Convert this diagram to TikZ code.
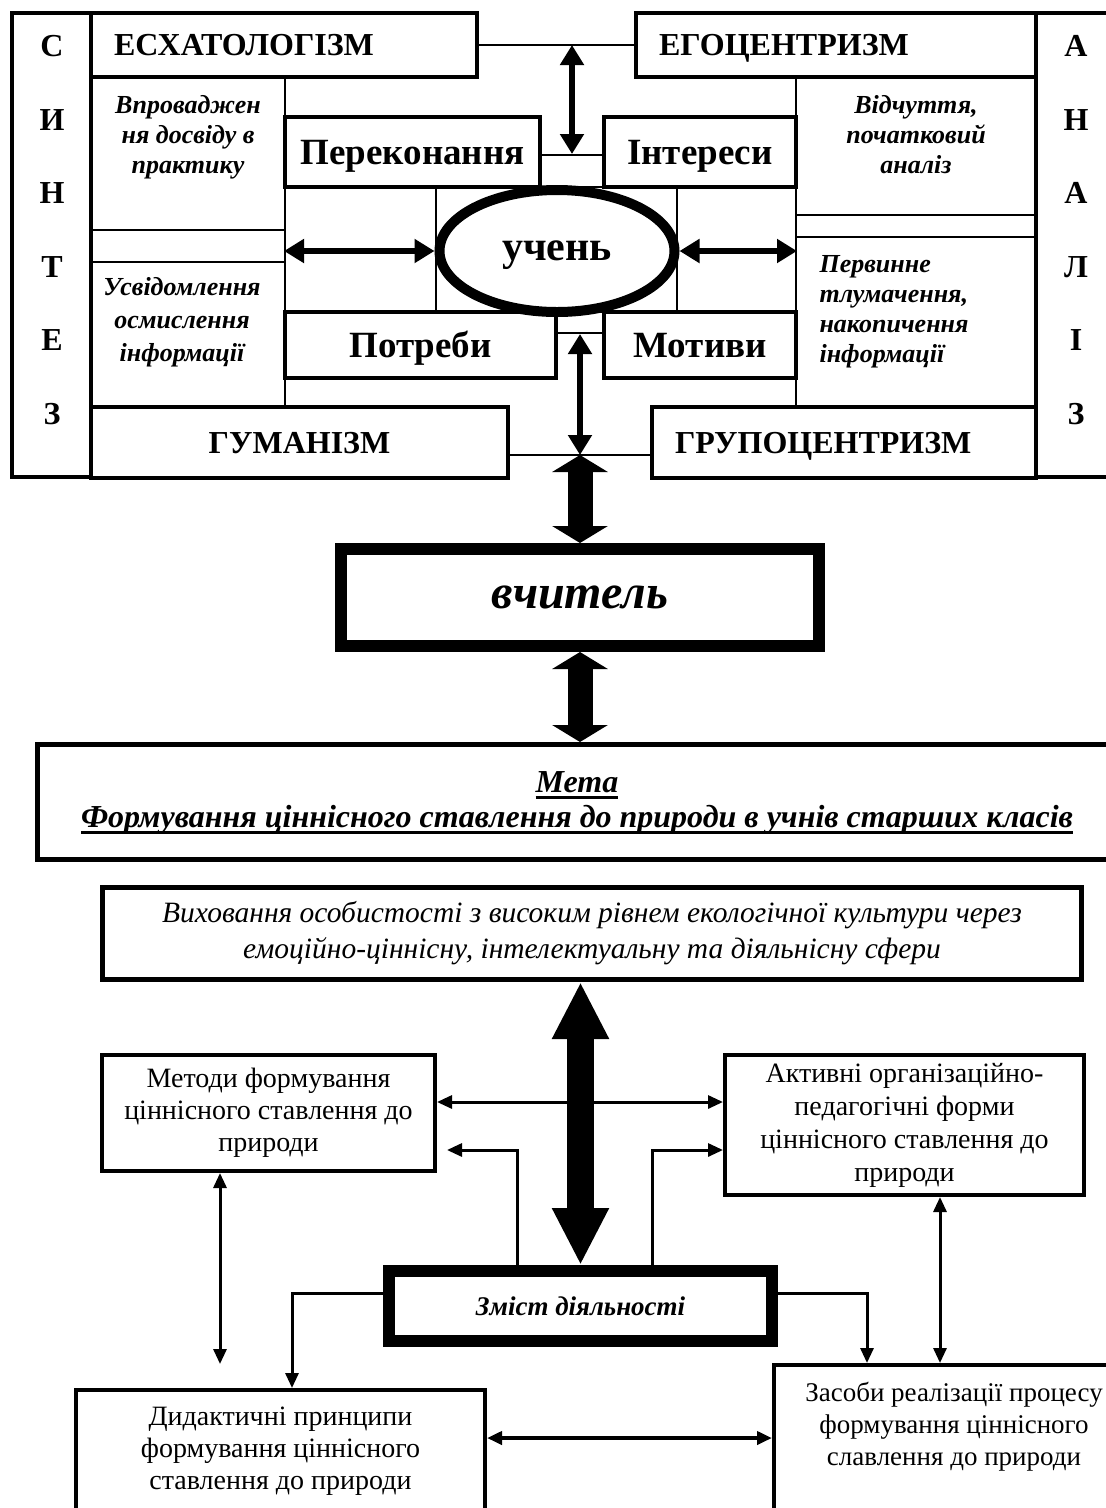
\documentclass[tikz,border=0pt]{standalone}
\usepackage{fontspec}
\setmainfont{Liberation Serif}
\usetikzlibrary{arrows.meta,shapes.geometric}
\newsavebox\ulbox
\newcommand{\uln}[1]{\sbox\ulbox{#1}\rlap{\usebox\ulbox}\rule[-6pt]{\wd\ulbox}{2.5pt}}

\begin{document}
\begin{tikzpicture}[x=1pt,y=-1pt,
  box/.style={draw, rectangle, line width=4pt, inner sep=0pt},
  sbox/.style={draw, rectangle, line width=2pt, inner sep=0pt},
  heavy/.style={draw, rectangle, line width=12pt, inner sep=0pt},
  capt/.style={font=\fontsize{32}{36}\selectfont\bfseries, text height=21pt, text depth=0pt},
  word/.style={font=\fontsize{37}{40}\selectfont\bfseries, text height=24pt, text depth=0pt},
  note/.style={font=\fontsize{26}{30}\selectfont\bfseries\itshape, align=center},
  txt/.style={font=\fontsize{28}{32}\selectfont, align=center},
  dbl/.style={line width=6pt, {Triangle[length=20pt,width=23pt]}-{Triangle[length=20pt,width=23pt]}},
  fat/.style={line width=25pt, {Triangle[length=17pt,width=55pt]}-{Triangle[length=17pt,width=55pt]}},
  bigarr/.style={line width=27pt, {Triangle[length=57pt,width=53pt]}-{Triangle[length=57pt,width=53pt]}},
  thinarr/.style={line width=3pt, {Triangle[length=15pt,width=13pt]}-{Triangle[length=15pt,width=13pt]}},
  onearr/.style={line width=3pt, -{Triangle[length=15pt,width=13pt]}}]
\useasboundingbox (0,0) rectangle (1106,1508);

% side columns
\node[box, minimum width=79, minimum height=464] (synth) at (51.5,245) {};
\node[box, minimum width=74, minimum height=464] (anal) at (1073,245) {};
\foreach \l [count=\i from 0] in {С,И,Н,Т,Е,З}
  \node[capt] (s\i) at (52,46+73.6*\i) {\l};
\foreach \l [count=\i from 0] in {А,Н,А,Л,І,З}
  \node[capt] (a\i) at (1076,46+73.6*\i) {\l};

% text columns
\node[sbox, minimum width=194, minimum height=153] (vpr) at (188,153.5) {};
\node[sbox, minimum width=194, minimum height=32] (gapl) at (188,246) {};
\node[sbox, minimum width=194, minimum height=145] (usv) at (188,334.5) {};
\node[sbox, minimum width=240, minimum height=138] (vid) at (916,146) {};
\node[sbox, minimum width=240, minimum height=22] (gapr) at (916,226) {};
\node[sbox, minimum width=240, minimum height=170] (perv) at (916,322) {};
\node[note] (vprt) at (188,137) {Впроваджен\\ня досвіду в\\практику};
\node[note, font=\fontsize{26}{33}\selectfont\bfseries\itshape] (usvt) at (182,322) {Усвідомлення\\осмислення\\інформації};
\node[note] (vidt) at (916,135) {Відчуття,\\початковий\\аналіз};
\node[note, align=left, anchor=west] (pervt) at (816,312) {Первинне\\тлумачення,\\накопичення\\інформації};

% top and bottom bars
\node[box, capt, minimum width=386, minimum height=64, text width=340, align=left] (eschat) at (284,45) {ЕСХАТОЛОГІЗМ};
\node[box, capt, minimum width=400, minimum height=64, text width=354, align=left] (egoc) at (836,45) {ЕГОЦЕНТРИЗМ};
\node[box, capt, minimum width=417, minimum height=71] (human) at (299.5,442.5) {ГУМАНІЗМ};
\node[box, capt, minimum width=384, minimum height=71, text width=338, align=left] (group) at (844,442.5) {ГРУПОЦЕНТРИЗМ};

% middle
\node[sbox, minimum width=151, minimum height=125] (midl) at (360.5,249.5) {};
\node[sbox, minimum width=241, minimum height=125] (midc) at (556.5,249.5) {};
\node[sbox, minimum width=119, minimum height=125] (midr) at (736.5,249.5) {};
\node[box, word, minimum width=255, minimum height=70] (perek) at (412.5,152) {Переконання};
\node[box, word, minimum width=192, minimum height=70] (inter) at (700,152) {Інтереси};
\node[box, word, minimum width=271, minimum height=66] (potr) at (420.5,345) {Потреби};
\node[box, word, minimum width=192, minimum height=66] (motyv) at (700,345) {Мотиви};
\node[sbox, minimum width=64, minimum height=32] (gapt) at (572,171) {};
\node[sbox, minimum width=48, minimum height=21] (gapb) at (580,322.5) {};
\node[draw, ellipse, line width=10pt, fill=white, inner sep=0pt, minimum width=235, minimum height=122,
  font=\fontsize{42}{46}\selectfont\bfseries, text height=19pt, text depth=0pt] (uchen) at (557,251) {учень};

\draw[line width=2pt] (eschat.east) -- (egoc.west);
\draw[dbl] (gapt.north |- eschat.east) -- (gapt.north);
\draw[dbl] (midl.west |- uchen.center) -- (uchen.west);
\draw[dbl] (uchen.east) -- (midr.east |- uchen.center);
\coordinate (hub) at (580,455);
\draw[line width=2pt] (human.east |- hub) -- (group.west |- hub);
\draw[dbl] (gapb.south) -- (hub);

% teacher and aim
\node[heavy, minimum width=478, minimum height=97, font=\fontsize{48}{52}\selectfont\bfseries\itshape,
  text height=22pt, text depth=0pt] (teacher) at (580,597.5) {вчитель};
\draw[fat] (hub) -- (teacher.north);
\node[draw, line width=5pt, minimum width=1079, minimum height=115] (meta) at (577,802) {};
\node[font=\fontsize{32}{35}\selectfont\bfseries\itshape, align=center] (metat) at (577,803)
  {\uln{Мета}\\\uln{Формування ціннісного ставлення до природи в учнів старших класів}};
\draw[fat] (teacher.south) -- (teacher.south |- meta.north);

% lower scheme
\node[draw, line width=5pt, minimum width=979, minimum height=92, font=\fontsize{29.5}{36}\selectfont\itshape, align=center] (vykh) at (592,933.5)
  {Виховання особистості з високим рівнем екологічної культури через\\емоційно-ціннісну, інтелектуальну та діяльнісну сфери};
\node[box, txt, minimum width=333, minimum height=116] (metod) at (268.5,1113) {Методи формування\\ціннісного ставлення до\\природи};
\node[box, txt, font=\fontsize{28}{33}\selectfont, minimum width=359, minimum height=140] (aktyv) at (904.5,1125) {Активні організаційно-\\педагогічні форми\\ціннісного ставлення до\\природи};
\node[heavy, minimum width=383, minimum height=70, font=\fontsize{27}{30}\selectfont\bfseries\itshape] (zmist) at (580.5,1306) {Зміст діяльності};
\node[box, txt, minimum width=409, minimum height=123] (dydak) at (280.5,1451.5) {Дидактичні принципи\\формування ціннісного\\ставлення до природи};
\node[box, minimum width=366, minimum height=160] (zasob) at (957,1445) {};
\node[txt, font=\fontsize{27}{32}\selectfont] (zasobt) at (954,1427) {Засоби реалізації процесу\\формування ціннісного\\славлення до природи};

\draw[thinarr] ([yshift=11pt]metod.east) -- ([yshift=11pt]metod.east -| aktyv.west);
\draw[bigarr] (vykh.south -| zmist.north) -- (zmist.north);
\draw[onearr, shorten >=10pt] ([xshift=-63.5pt]zmist.north) |- ([yshift=-37pt]metod.east);
\draw[onearr] ([xshift=71.5pt]zmist.north) |- ([yshift=-25pt]aktyv.west);
\draw[onearr] ([yshift=13pt]zmist.west) -| ([xshift=11.5pt]dydak.north);
\draw[onearr] ([yshift=13pt]zmist.east) -| ([xshift=-90pt]zasob.north);
\draw[thinarr, shorten >=24pt] ([xshift=-48.5pt]metod.south) -- ([xshift=-48.5pt]metod.south |- dydak.north);
\draw[thinarr] ([xshift=35.5pt]aktyv.south) -- ([xshift=35.5pt]aktyv.south |- zasob.north);
\draw[thinarr, line width=4pt] ([yshift=13.5pt]dydak.east) -- ([yshift=13.5pt]dydak.east -| zasob.west);
\end{tikzpicture}
\end{document}
